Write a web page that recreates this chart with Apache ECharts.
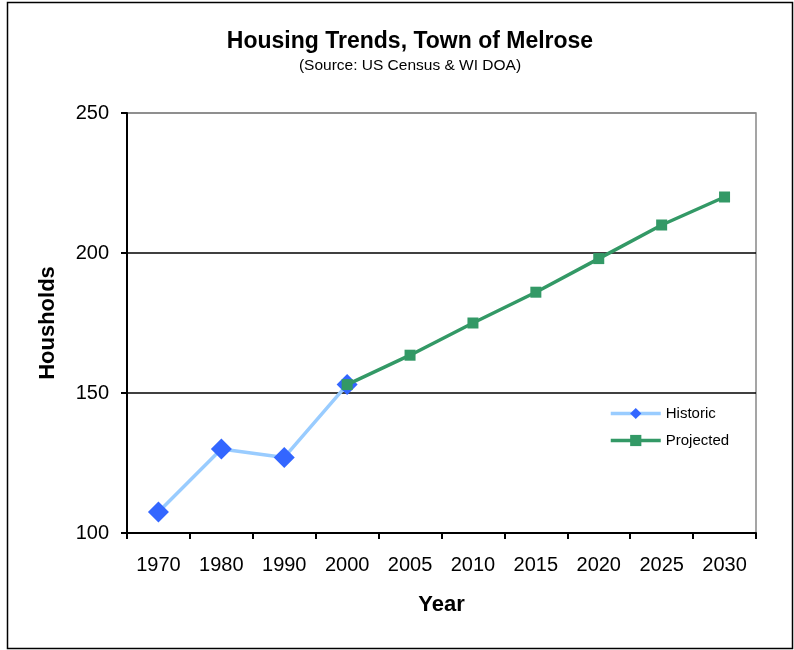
<!DOCTYPE html>
<html>
<head>
<meta charset="utf-8">
<script src="https://cdn.jsdelivr.net/npm/echarts@6/dist/echarts.min.js"></script>
<style>
html,body{margin:0;padding:0;background:#fff;}
#chart{width:794px;height:650px;}
</style>
</head>
<body>
<div id="chart"></div>
<script>
const years = ['1970','1980','1990','2000','2005','2010','2015','2020','2025','2030'];
const historic = [107.5, 130, 127, 153, null, null, null, null, null, null];
const projected = [null, null, null, 153, 163.5, 175, 186, 198, 210, 220];
const yTicks = {min: 100, max: 250, interval: 50};

const chart = echarts.init(document.getElementById('chart'), null, {renderer: 'canvas'});
const font = '"Liberation Sans", Arial, sans-serif';
chart.setOption({
  animation: false,
  backgroundColor: '#fff',
  textStyle: {fontFamily: font},
  graphic: [{
    type: 'rect', shape: {x: 7.5, y: 2.5, width: 785, height: 646},
    style: {fill: 'none', stroke: '#000', lineWidth: 1.5}, z: -1
  }],
  title: {
    text: 'Housing Trends, Town of Melrose',
    subtext: '(Source: US Census & WI DOA)',
    left: 405, top: 25, textAlign: 'center', itemGap: 5,
    textStyle: {fontFamily: font, fontSize: 23, fontWeight: 'bold', color: '#000'},
    subtextStyle: {fontFamily: font, fontSize: 15.5, color: '#000'}
  },
  legend: {
    orient: 'vertical', left: 604, top: 401, itemWidth: 50, itemHeight: 14, itemGap: 12,
    textStyle: {fontFamily: font, fontSize: 15, color: '#000'},
    lineStyle: {width: 3.5},
    data: ['Historic', 'Projected']
  },
  grid: {
    left: 127, top: 113, width: 629, height: 420,
    show: true, borderColor: '#888', borderWidth: 1.5, backgroundColor: '#fff'
  },
  xAxis: {
    type: 'category', data: years, boundaryGap: true,
    name: 'Year', nameLocation: 'middle', nameGap: 61,
    nameTextStyle: {fontFamily: font, fontSize: 22, fontWeight: 'bold', color: '#000'},
    axisLine: {lineStyle: {color: '#000', width: 2}},
    axisTick: {show: true, alignWithLabel: false, length: 6, lineStyle: {color: '#000', width: 2}},
    axisLabel: {fontFamily: font, fontSize: 20, color: '#000', margin: 22, interval: 0},
    splitLine: {show: false}
  },
  yAxis: {
    type: 'value', min: yTicks.min, max: yTicks.max, interval: yTicks.interval,
    name: 'Housholds', nameLocation: 'middle', nameGap: 68, nameRotate: 90,
    nameTextStyle: {fontFamily: font, fontSize: 22, fontWeight: 'bold', color: '#000'},
    axisLine: {show: true, lineStyle: {color: '#000', width: 2}},
    axisTick: {show: true, length: 6, lineStyle: {color: '#000', width: 2}},
    axisLabel: {fontFamily: font, fontSize: 20, color: '#000', margin: 18},
    splitLine: {show: true, lineStyle: {color: ['#000', '#000', '#000', '#888'], width: 1.5}}
  },
  series: [
    {
      name: 'Historic', type: 'line', data: historic, connectNulls: false,
      symbol: 'diamond', symbolSize: 21, showAllSymbol: true,
      lineStyle: {color: '#99ccff', width: 3.5},
      itemStyle: {color: '#3366ff', borderWidth: 0},
      z: 2
    },
    {
      name: 'Projected', type: 'line', data: projected,
      symbol: 'rect', symbolSize: 11, showAllSymbol: true,
      lineStyle: {color: '#339966', width: 3.5},
      itemStyle: {color: '#339966', borderWidth: 0},
      z: 3
    }
  ]
});
</script>
</body>
</html>
